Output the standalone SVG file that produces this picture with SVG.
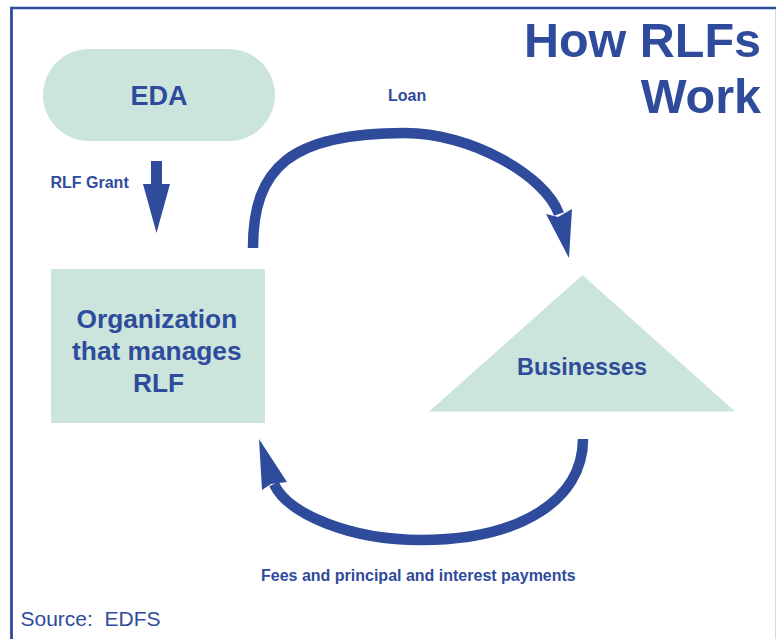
<svg xmlns="http://www.w3.org/2000/svg" width="776" height="639" viewBox="0 0 776 639">
  <style>
    .node { fill: #cbe5dc; }
    .lbl { font-family: "Liberation Sans", Arial, sans-serif; font-weight: bold; fill: #2f4b9b; }
    .flow { fill: none; stroke: #2f4b9b; stroke-width: 10.5; }
    .head { fill: #2f4b9b; }
  </style>
  <rect width="776" height="639" fill="#ffffff"/>

  <!-- frame -->
  <g id="frame">
    <line x1="11.5" y1="8" x2="776" y2="8" stroke="#2f4b9b" stroke-width="2.6"/>
    <line x1="11.5" y1="6.7" x2="11.5" y2="639" stroke="#2f4b9b" stroke-width="2.8"/>
    <line x1="775.5" y1="9" x2="775.5" y2="639" stroke="#d3d6e6" stroke-width="1"/>
  </g>

  <!-- title -->
  <g id="title" class="lbl" font-size="48.5" text-anchor="end">
    <text x="761" y="57">How RLFs</text>
    <text x="761" y="113">Work</text>
  </g>

  <!-- nodes -->
  <g id="eda">
    <rect class="node" x="43" y="49" width="232" height="92" rx="46" ry="46"/>
    <text class="lbl" x="159" y="105" font-size="27" text-anchor="middle">EDA</text>
  </g>

  <g id="organization">
    <rect class="node" x="51" y="269" width="214" height="154"/>
    <text class="lbl" font-size="26.3" text-anchor="middle">
      <tspan x="160.5" y="328">Organization</tspan>
      <tspan x="160.5" y="360">that manages</tspan>
      <tspan x="158.5" y="392">RLF</tspan>
    </text>
  </g>

  <g id="businesses">
    <polygon class="node" points="582.5,275 735,411.5 429,411.5"/>
    <text class="lbl" x="582" y="375" font-size="23.4" text-anchor="middle">Businesses</text>
  </g>

  <!-- connectors -->
  <g id="connectors">
    <!-- RLF grant: EDA down to the organization -->
    <g id="grant">
      <rect class="head" x="151" y="161" width="11" height="26"/>
      <polygon class="head" points="143,184 170,184 156.5,233"/>
      <text class="lbl" x="50.5" y="188" font-size="16">RLF Grant</text>
    </g>
    <!-- loan: organization over to businesses -->
    <g id="loan">
      <path class="flow" d="M253,248 C253,168 290,133 405,133 C470,133 545,175 559,214"/>
      <polygon class="head" points="546,214 558,217 572,209 569,258"/>
      <text class="lbl" x="388" y="100.5" font-size="16">Loan</text>
    </g>
    <!-- repayments: businesses back to the organization -->
    <g id="repayment">
      <path class="flow" d="M583,439 C583,500 520,540 421,540 C350,540 288,514 274,484"/>
      <polygon class="head" points="259,439 262,490 271,484 287,482"/>
      <text class="lbl" x="261" y="580.7" font-size="16">Fees and principal and interest payments</text>
    </g>
  </g>

  <text x="20.5" y="626" font-family="'Liberation Sans', Arial, sans-serif" font-size="21" fill="#2f4b9b" xml:space="preserve">Source:  EDFS</text>
</svg>
